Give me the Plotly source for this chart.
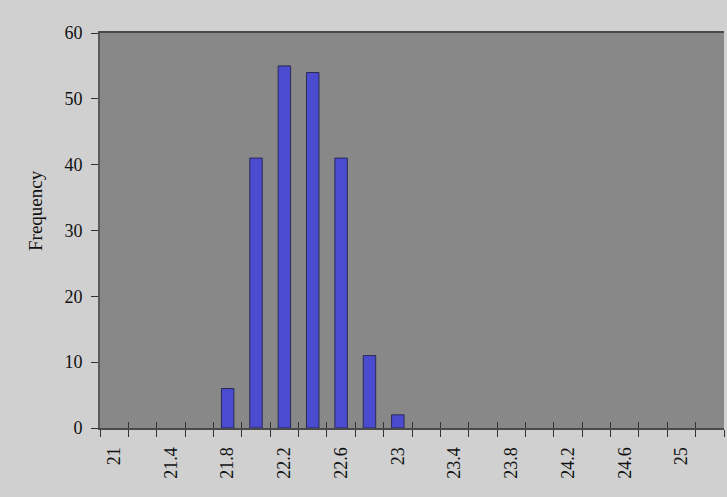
import plotly.graph_objects as go

# histogram bins (upper bin value) and frequencies
bins = [21.0, 21.2, 21.4, 21.6, 21.8, 22.0, 22.2, 22.4, 22.6, 22.8, 23.0,
        23.2, 23.4, 23.6, 23.8, 24.0, 24.2, 24.4, 24.6, 24.8, 25.0, 25.2]
freq = [0, 0, 0, 0, 6, 41, 55, 54, 41, 11, 2,
        0, 0, 0, 0, 0, 0, 0, 0, 0, 0, 0]
tick_labels = ["21", "21.4", "21.8", "22.2", "22.6", "23",
               "23.4", "23.8", "24.2", "24.6", "25"]
tick_vals = [float(t) for t in tick_labels]

fig = go.Figure()
fig.add_trace(go.Bar(
    x=bins,
    y=[f if f else None for f in freq],  # empty bins draw nothing
    marker=dict(color="#4b4bd0", line=dict(color="#2a2a55", width=1)),
    showlegend=False,
))

# invisible helper trace so the overlay axis (inner tick halves) is drawn
fig.add_trace(go.Scatter(x=[20.9], y=[0], xaxis="x2", mode="markers",
                         marker=dict(opacity=0), showlegend=False,
                         hoverinfo="skip"))

fig.update_layout(
    width=727,
    height=497,
    margin=dict(l=100, r=3, t=33, b=69),
    paper_bgcolor="#d0d0d0",
    plot_bgcolor="#888888",
    bargap=0.56,
    font=dict(family="Liberation Serif", color="#111111", size=18),
    xaxis=dict(
        range=[20.9, 25.3],
        tickvals=tick_vals,
        ticktext=tick_labels,
        tickangle=-90,
        ticks="",
        ticklabelstandoff=10,
        showgrid=False,
        zeroline=False,
        showline=True,
        linecolor="#4a4a4a",
        linewidth=2,
        mirror=True,
        tickfont=dict(size=18),
        minor=dict(tick0=20.9, dtick=0.2, ticks="outside", ticklen=7,
                   tickcolor="#333333", tickwidth=1, showgrid=False),
    ),
    xaxis2=dict(
        range=[20.9, 25.3],
        overlaying="x",
        side="bottom",
        anchor="y",
        showticklabels=False,
        tick0=20.9,
        dtick=0.2,
        ticks="inside",
        ticklen=6,
        tickcolor="#333333",
        tickwidth=1,
        showgrid=False,
        zeroline=False,
    ),
    yaxis=dict(
        range=[0, 60],
        dtick=10,
        ticks="outside",
        ticklen=7,
        ticklabelstandoff=5,
        tickcolor="#333333",
        showgrid=False,
        zeroline=False,
        showline=True,
        linecolor="#5a5a5a",
        linewidth=2,
        tickfont=dict(size=18),
    ),
)

fig.add_annotation(
    text="Frequency",
    xref="paper", yref="paper",
    x=(36 - 100) / 624, y=(428 - 211) / 395,
    xanchor="center", yanchor="middle",
    textangle=-90,
    showarrow=False,
    font=dict(size=19),
)

fig.write_html("out.html", config={"displayModeBar": False},
               post_script="document.body.style.margin='0';")
